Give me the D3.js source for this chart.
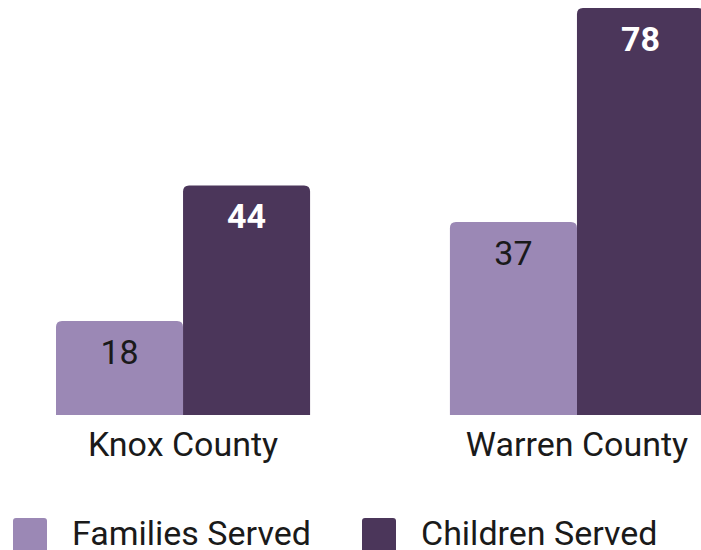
<!DOCTYPE html>
<html>
<head>
<meta charset="utf-8">
<script src="https://cdn.jsdelivr.net/npm/d3@7"></script>
<style>
  body { margin: 0; background: #fff; }
  svg { display: block; font-family: Roboto, sans-serif; }
</style>
</head>
<body>
<div id="chart"></div>
<script>
const counties = ["Knox County", "Warren County"];
const seriesNames = ["Families Served", "Children Served"];
const familiesServed = [18, 37];
const childrenServed = [44, 78];

const COLORS = ["#9b88b5", "#4b365a"];
const width = 701, height = 550;
const baseline = 415;

const svg = d3.select("#chart").append("svg")
  .attr("width", width)
  .attr("height", height);

const x0 = d3.scaleBand()
  .domain(counties)
  .range([56, 704])
  .paddingInner(0.355)
  .paddingOuter(0);

const x1 = d3.scaleBand()
  .domain(seriesNames)
  .range([0, x0.bandwidth()])
  .padding(0);

const y = d3.scaleLinear()
  .domain([0, 78])
  .range([baseline, 8]);

const rows = counties.map((c, i) => ({
  county: c,
  values: [
    { key: seriesNames[0], value: familiesServed[i], idx: 0 },
    { key: seriesNames[1], value: childrenServed[i], idx: 1 }
  ]
}));

// bar with rounded top corners only
function topRounded(xp, yp, w, h, r) {
  return "M" + xp + "," + (yp + h) +
    "V" + (yp + r) +
    "Q" + xp + "," + yp + " " + (xp + r) + "," + yp +
    "H" + (xp + w - r) +
    "Q" + (xp + w) + "," + yp + " " + (xp + w) + "," + (yp + r) +
    "V" + (yp + h) + "Z";
}

const groups = svg.append("g")
  .selectAll("g")
  .data(rows)
  .join("g")
  .attr("transform", d => "translate(" + x0(d.county) + ",0)");

groups.selectAll("path")
  .data(d => d.values)
  .join("path")
  .attr("d", d => topRounded(x1(d.key), y(d.value), x1.bandwidth(), baseline - y(d.value), 6))
  .attr("fill", d => COLORS[d.idx]);

groups.selectAll("text")
  .data(d => d.values)
  .join("text")
  .attr("x", d => x1(d.key) + x1.bandwidth() / 2)
  .attr("y", d => y(d.value) + 43)
  .attr("text-anchor", "middle")
  .attr("font-size", "34px")
  .attr("font-weight", d => d.idx == 1 ? "bold" : "normal")
  .attr("fill", d => d.idx == 1 ? "#ffffff" : "#1a1a1a")
  .text(d => d.value);

// category labels
const xAxis = svg.append("g")
  .attr("transform", "translate(0," + baseline + ")")
  .call(d3.axisBottom(x0).tickSize(0).tickPadding(41));
xAxis.select(".domain").remove();
xAxis.selectAll("text")
  .attr("font-family", "Roboto, sans-serif")
  .attr("font-size", "34px")
  .attr("fill", "#1a1a1a")
  .attr("dy", 0);

// legend
const legendX = [13, 362];
const legend = svg.append("g")
  .selectAll("g")
  .data(seriesNames)
  .join("g")
  .attr("transform", (d, i) => "translate(" + legendX[i] + ",518)");

legend.append("rect")
  .attr("width", 34)
  .attr("height", 34)
  .attr("rx", 3)
  .attr("fill", (d, i) => COLORS[i]);

legend.append("text")
  .attr("x", 59)
  .attr("y", 27)
  .attr("font-size", "34px")
  .attr("fill", "#1a1a1a")
  .text(d => d);
</script>
</body>
</html>
